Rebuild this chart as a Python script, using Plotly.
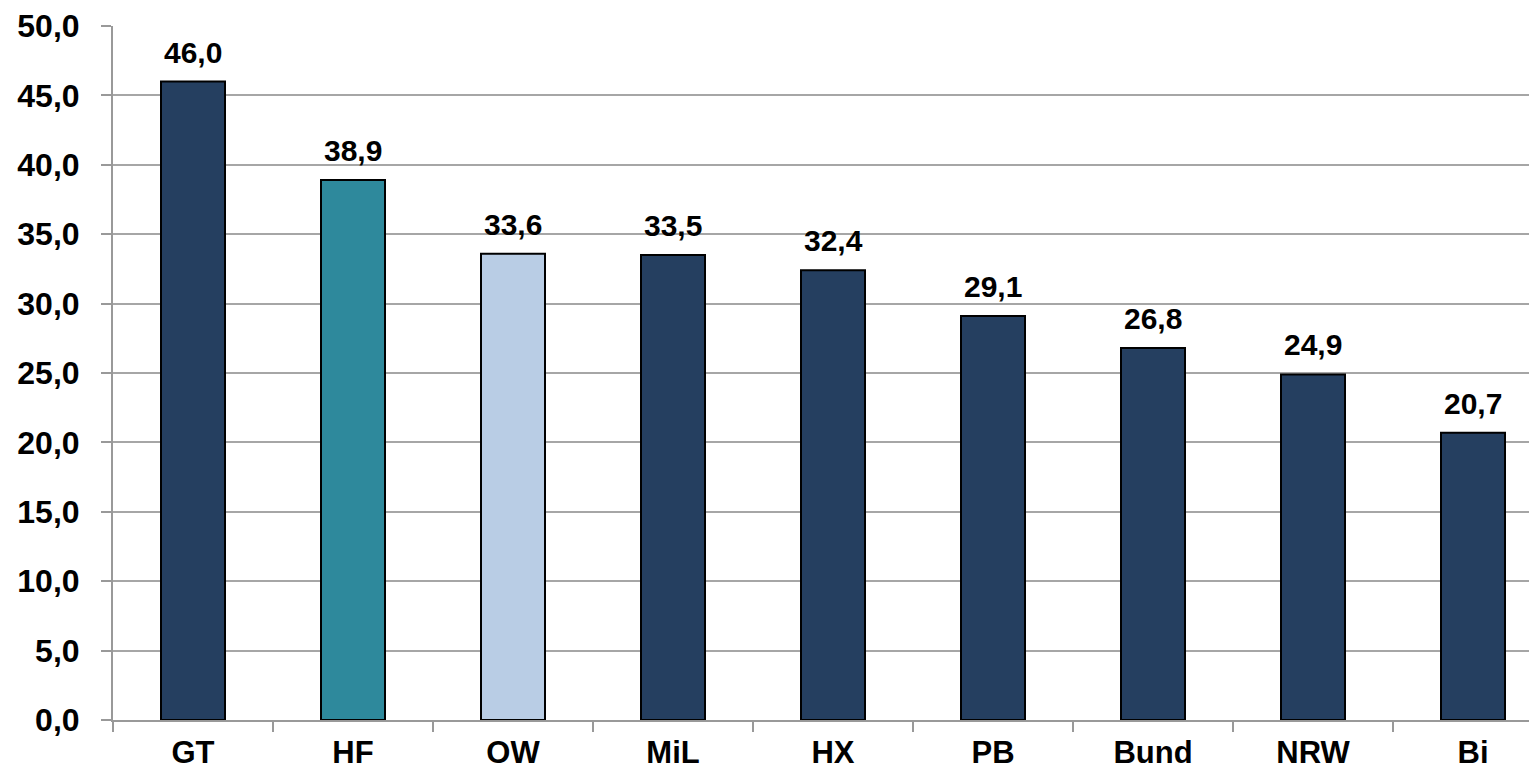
import plotly.graph_objects as go

categories = ["GT", "HF", "OW", "MiL", "HX", "PB", "Bund", "NRW", "Bi"]
values = [46.0, 38.9, 33.6, 33.5, 32.4, 29.1, 26.8, 24.9, 20.7]
colors = ["#253F60", "#2E899C", "#B9CDE5", "#253F60", "#253F60", "#253F60", "#253F60", "#253F60", "#253F60"]
y_ticks = [0, 5, 10, 15, 20, 25, 30, 35, 40, 45, 50]

fig = go.Figure(go.Bar(
    x=categories,
    y=values,
    width=0.4,
    marker=dict(color=colors, line=dict(color="#000000", width=2)),
    hoverinfo="x+y",
))

for c, v in zip(categories, values):
    fig.add_annotation(
        x=c, y=v, text=f"{v:.1f}".replace(".", ","),
        showarrow=False, yanchor="bottom", yshift=11,
        font=dict(family="Liberation Sans", size=30, color="#000000", weight="bold"),
    )

fig.update_layout(
    width=1537, height=779,
    margin=dict(l=105, r=0, t=18, b=67),
    plot_bgcolor="white", paper_bgcolor="white",
    separators=",.",
    showlegend=False,
    font=dict(family="Liberation Sans", color="#000000"),
)
fig.update_xaxes(
    range=[-0.5, 8.45],
    tickson="boundaries",
    ticks="outside", ticklen=10, tickwidth=2, tickcolor="#999999",
    showline=True, linecolor="#999999", linewidth=2,
    showgrid=False,
    ticklabelstandoff=4,
    tickfont=dict(family="Liberation Sans", size=31, color="#000000", weight="bold"),
)
fig.update_yaxes(
    range=[0, 50],
    tickvals=y_ticks,
    tickformat=".1f",
    ticks="outside", ticklen=10, tickwidth=2, tickcolor="#999999",
    showline=True, linecolor="#999999", linewidth=2,
    showgrid=True, gridcolor="#A6A6A6", gridwidth=2,
    zeroline=False,
    ticklabelstandoff=15,
    tickfont=dict(family="Liberation Sans", size=32, color="#000000", weight="bold"),
)

fig.write_html("out.html")
